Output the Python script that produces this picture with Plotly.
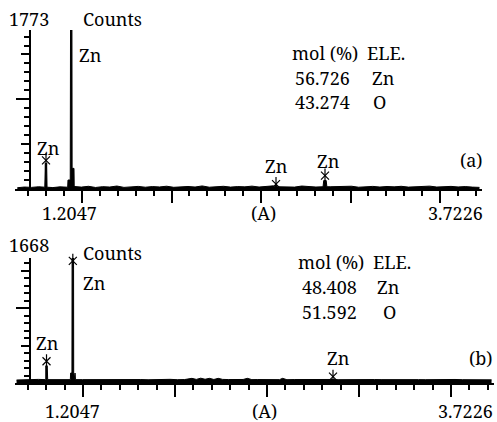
import plotly.graph_objects as go

# ---------------- data ----------------
tick_labels = ["1.2047", "(A)", "3.7226"]
ymax_a = 1773
ymax_b = 1668

# panel (a) spectrum: baseline samples
a_base_x = [0.75, 0.80, 0.85, 0.90, 0.95, 1.00, 1.05, 1.10, 1.15, 1.20,
            1.25, 1.30, 1.35, 1.40, 1.45, 1.50, 1.55, 1.60, 1.65, 1.70,
            1.75, 1.80, 1.85, 1.90, 1.95, 2.00, 2.05, 2.10, 2.15, 2.20,
            2.25, 2.30, 2.35, 2.40, 2.45, 2.50, 2.55, 2.60, 2.65, 2.70,
            2.75, 2.80, 2.85, 2.90, 2.95, 3.00, 3.05, 3.10, 3.15, 3.20,
            3.25, 3.30, 3.35, 3.40, 3.45, 3.50, 3.55, 3.60, 3.65, 3.70,
            3.75, 3.80, 3.85, 3.90, 3.95, 4.00]
a_base_y = [14, 22, 18, 25, 20, 16, 24, 19, 28, 21,
            30, 17, 26, 22, 33, 18, 24, 29, 20, 27,
            23, 31, 19, 25, 28, 22, 34, 20, 26, 30,
            21, 27, 24, 32, 22, 28, 35, 24, 29, 21,
            33, 26, 22, 30, 25, 27, 23, 31, 20, 26,
            29, 22, 28, 24, 30, 21, 27, 25, 32, 22,
            26, 29, 23, 27, 21, 18]
# panel (a) peak points
a_peak_x = [0.9430, 0.9470, 0.9560, 0.9590,
            1.1040, 1.1062, 1.1220, 1.1240, 1.1340, 1.1352, 1.1484, 1.1500,
            2.5600, 2.5690, 2.5780,
            2.9000, 2.9050, 2.9220, 2.9270]
a_peak_y = [20, 290, 290, 20,
            20, 100, 100, 1773, 1773, 230, 230, 20,
            25, 45, 25,
            25, 95, 95, 25]
a_mark_x = [0.9515, 1.1290, 2.5692, 2.9138]
a_mark_y = [320, 1790, 55, 150]

# panel (b) spectrum: baseline samples
b_base_x = [0.75, 0.80, 0.85, 0.90, 0.95, 1.00, 1.05, 1.10, 1.15, 1.20,
            1.25, 1.30, 1.35, 1.40, 1.45, 1.50, 1.55, 1.60, 1.65, 1.70,
            1.75, 1.80, 1.85, 1.90, 1.95, 1.98, 2.01, 2.04, 2.07, 2.10,
            2.13, 2.16, 2.20, 2.25, 2.30, 2.33, 2.36, 2.40, 2.45, 2.50,
            2.55, 2.57, 2.60, 2.65, 2.70, 2.75, 2.80, 2.85, 2.90, 2.95,
            3.00, 3.05, 3.10, 3.15, 3.20, 3.25, 3.30, 3.35, 3.40, 3.45,
            3.50, 3.55, 3.60, 3.65, 3.70, 3.75, 3.80, 3.85, 3.90, 3.95,
            4.00]
b_base_y = [40, 46, 42, 48, 44, 45, 47, 43, 48, 45,
            46, 44, 49, 45, 47, 44, 48, 46, 43, 47,
            45, 49, 44, 46, 62, 48, 64, 50, 62, 47,
            62, 48, 46, 44, 47, 62, 45, 46, 44, 47,
            45, 62, 44, 46, 48, 44, 46, 45, 47, 44,
            46, 45, 47, 44, 46, 45, 43, 46, 44, 47,
            45, 44, 46, 43, 45, 47, 44, 46, 45, 44,
            42]
b_peak_x = [0.9470, 0.9500, 0.9600, 0.9630,
            1.1180, 1.1200, 1.1290, 1.1300, 1.1400, 1.1410, 1.1500, 1.1520]
b_peak_y = [45, 230, 230, 45,
            45, 133, 133, 1668, 1668, 133, 133, 45]
b_mark_x = [0.9550, 1.1350, 2.9152]
b_mark_y = [290, 1630, 85]

# ---------------- helpers ----------------
W, H = 497, 422
FONT = "Noto Serif"
FSIZE = 18


def px(x):
    return x / W


def py(y):
    return 1 - y / H


def merge(xs1, ys1, xs2, ys2):
    pts = sorted(zip(list(xs1) + list(xs2), list(ys1) + list(ys2)))
    return [p[0] for p in pts], [p[1] for p in pts]


ax_x, ax_y = merge(a_base_x, a_base_y, a_peak_x, a_peak_y)
bx_x, bx_y = merge(b_base_x, b_base_y, b_peak_x, b_peak_y)

fig = go.Figure()

for xx, yy, xa, ya in [(ax_x, ax_y, "x", "y"), (bx_x, bx_y, "x2", "y2")]:
    fig.add_trace(go.Scatter(x=xx, y=yy, xaxis=xa, yaxis=ya, mode="lines",
                             line=dict(color="black", width=1),
                             fill="tozeroy", fillcolor="black",
                             hoverinfo="skip", showlegend=False))

for mx, my, xa, ya in [(a_mark_x, a_mark_y, "x", "y"), (b_mark_x, b_mark_y, "x2", "y2")]:
    fig.add_trace(go.Scatter(x=mx, y=my, xaxis=xa, yaxis=ya, mode="markers",
                             marker=dict(symbol="x-thin-open", size=8, color="black",
                                         line=dict(color="black", width=1.2)),
                             cliponaxis=False, hoverinfo="skip", showlegend=False))
    fig.add_trace(go.Scatter(x=mx, y=my, xaxis=xa, yaxis=ya, mode="markers",
                             marker=dict(symbol="line-ns-open", size=10, color="black",
                                         line=dict(color="black", width=1.2)),
                             cliponaxis=False, hoverinfo="skip", showlegend=False))

# dummy traces to realise medium-tick overlay axes
fig.add_trace(go.Scatter(x=[1.2], y=[0], xaxis="x", yaxis="y3", mode="markers",
                         marker=dict(opacity=0), hoverinfo="skip", showlegend=False))
fig.add_trace(go.Scatter(x=[1.2], y=[0], xaxis="x2", yaxis="y4", mode="markers",
                         marker=dict(opacity=0), hoverinfo="skip", showlegend=False))

major = 0.629475
minor = major / 5


def xaxis(dom, rng):
    return dict(domain=dom, range=rng, showline=True, linewidth=2, linecolor="black",
                ticks="outside", tickmode="linear", tick0=1.2047, dtick=major,
                ticklen=12, tickwidth=2, tickcolor="black",
                showticklabels=False, showgrid=False, zeroline=False,
                minor=dict(ticks="outside", ticklen=5, tickwidth=1.5, tickcolor="black",
                           tick0=1.2047, dtick=minor, showgrid=False))


def yaxis(dom, top):
    return dict(domain=dom, range=[0, top], anchor="free", position=px(30),
                showline=True, linewidth=2, linecolor="black",
                ticks="outside", tickmode="array", tickvals=[1000],
                ticklen=13, tickwidth=2, tickcolor="black",
                showticklabels=False, showgrid=False, zeroline=False,
                minor=dict(ticks="outside", ticklen=5, tickwidth=1.5, tickcolor="black",
                           tickmode="linear", tick0=0, dtick=100, showgrid=False))


def ymed(dom, top, over):
    return dict(domain=dom, range=[0, top], anchor="free", position=px(30),
                overlaying=over, showline=False,
                ticks="outside", tickmode="array", tickvals=[500, 1500],
                ticklen=9, tickwidth=1.5, tickcolor="black",
                showticklabels=False, showgrid=False, zeroline=False)


dom_xa = [px(15), px(482)]
dom_ya = [py(189), py(30)]
dom_xb = [px(15), px(494)]
dom_yb = [py(383), py(258)]

fig.update_layout(
    width=W, height=H, margin=dict(l=0, r=0, t=0, b=0),
    paper_bgcolor="white", plot_bgcolor="rgba(0,0,0,0)",
    xaxis=dict(xaxis(dom_xa, [0.7335, 4.0180]), anchor="y"),
    yaxis=yaxis(dom_ya, ymax_a),
    yaxis3=ymed(dom_ya, ymax_a, "y"),
    xaxis2=dict(xaxis(dom_xb, [0.7394, 4.0168]), anchor="y2"),
    yaxis2=yaxis(dom_yb, ymax_b),
    yaxis4=ymed(dom_yb, ymax_b, "y2"),
)

texts = [
    # panel (a)
    (str(ymax_a), 7, 19, "left"), ("Counts", 112, 19, "center"),
    ("Zn", 90, 55, "center"), ("Zn", 48, 148, "center"),
    ("mol (%)", 325, 53, "center"), ("ELE.", 386, 53, "center"),
    ("56.726", 322, 78, "center"), ("Zn", 383, 78, "center"),
    ("43.274", 322, 102, "center"), ("O", 379, 102, "center"),
    ("(a)", 471, 160, "center"), ("Zn", 276, 166, "center"), ("Zn", 328, 161, "center"),
    (tick_labels[0], 69, 213, "center"), (tick_labels[1], 263, 213, "center"),
    (tick_labels[2], 455, 213, "center"),
    # panel (b)
    (str(ymax_b), 7, 245, "left"), ("Counts", 112, 253, "center"),
    ("Zn", 94, 283, "center"), ("Zn", 47, 343, "center"),
    ("mol (%)", 331, 262, "center"), ("ELE.", 392, 262, "center"),
    ("48.408", 329, 287, "center"), ("Zn", 388, 287, "center"),
    ("51.592", 329, 312, "center"), ("O", 389, 312, "center"),
    ("(b)", 481, 358, "center"), ("Zn", 338, 358, "center"),
    (tick_labels[0], 72, 411, "center"), (tick_labels[1], 264, 411, "center"),
    (tick_labels[2], 465, 411, "center"),
]
for t, x, y, anc in texts:
    fig.add_annotation(text=t, x=px(x), y=py(y), xref="paper", yref="paper",
                       xanchor=anc, yanchor="middle", showarrow=False,
                       font=dict(family=FONT, size=FSIZE, color="black"))

fig.write_html("out.html")
